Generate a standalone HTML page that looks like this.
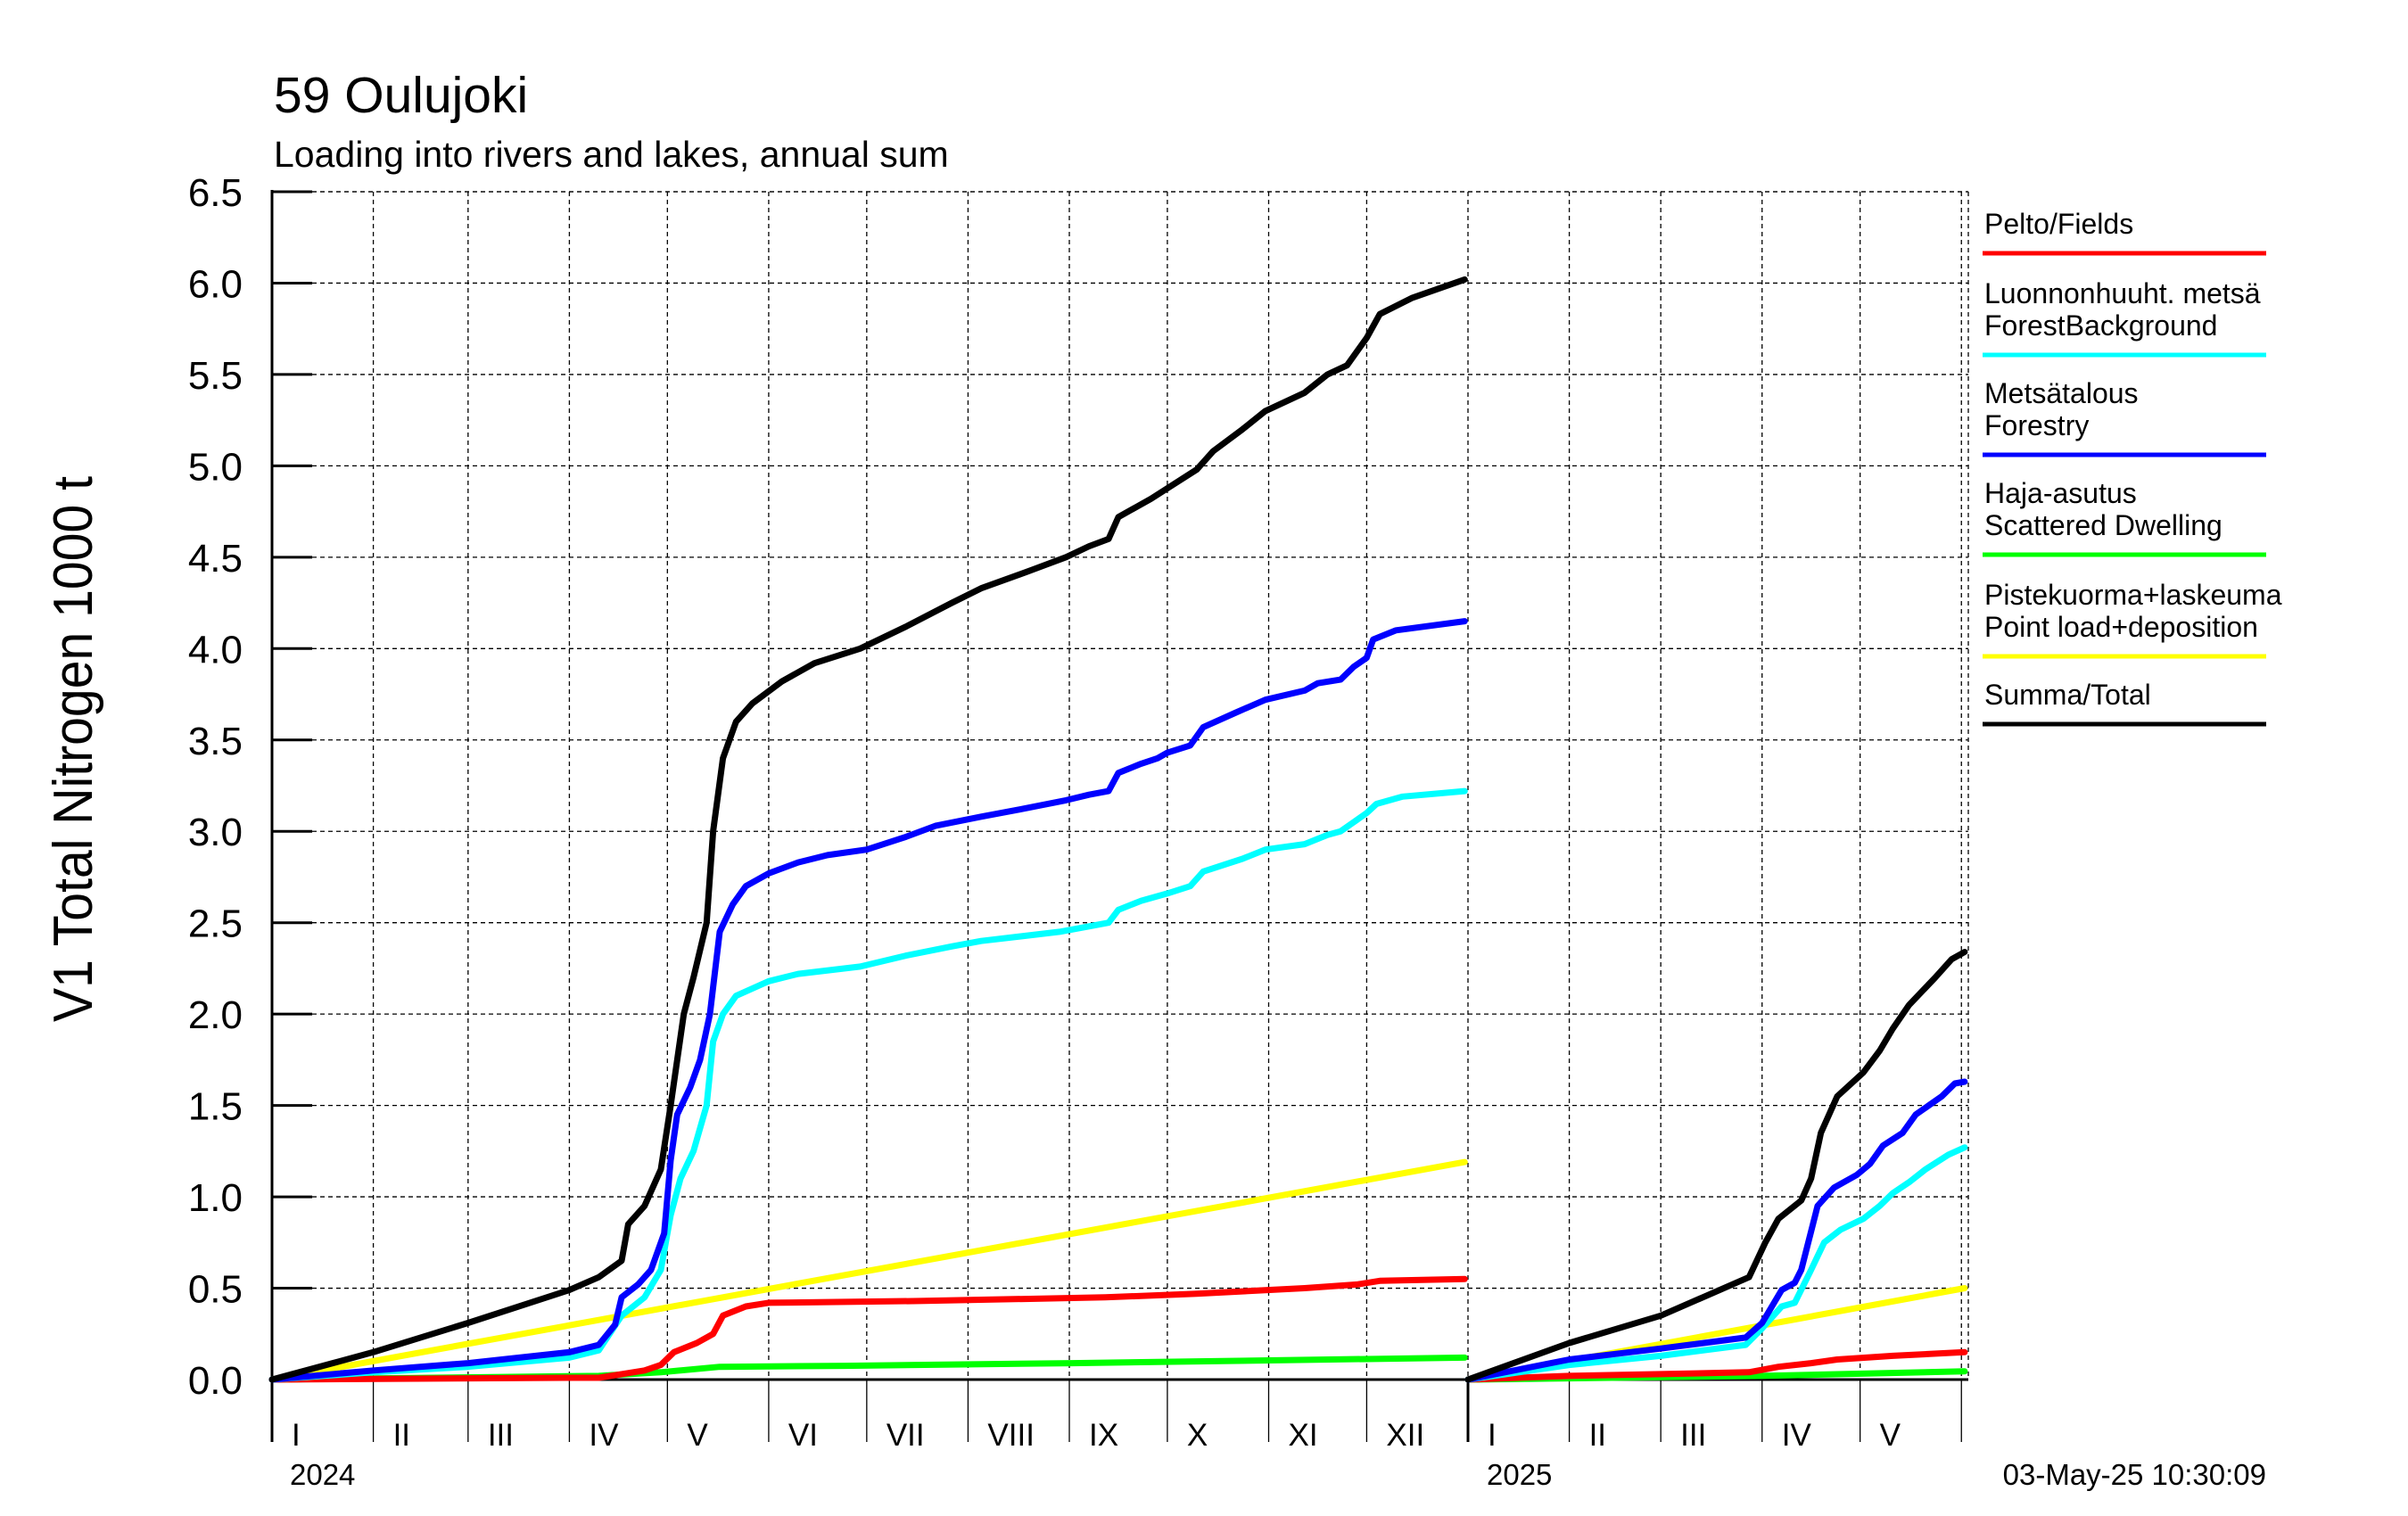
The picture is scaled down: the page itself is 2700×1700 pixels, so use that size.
<!DOCTYPE html>
<html><head><meta charset="utf-8"><style>
html,body{margin:0;padding:0;background:#fff;}
svg{display:block;font-family:"Liberation Sans",sans-serif;}
</style></head><body>
<svg id="chart" width="2700" height="1700" viewBox="0 0 2700 1700">
<text x="307" y="126" font-size="57">59 Oulujoki</text>
<text x="307" y="187" font-size="41">Loading into rivers and lakes, annual sum</text>
<text transform="translate(103,840) rotate(-90)" text-anchor="middle" font-size="62" textLength="612" lengthAdjust="spacingAndGlyphs">V1 Total Nitrogen 1000 t</text>
<g id="grid"></g>
<g id="axes"></g>
<g id="series"></g>
<g id="legend"></g>
<text x="325" y="1665" font-size="33">2024</text>
<text x="1667" y="1665" font-size="33">2025</text>
<text x="2541" y="1665" font-size="33" text-anchor="end">03-May-25 10:30:09</text>
</svg>
<script>
const yTicks = [0,0.5,1,1.5,2,2.5,3,3.5,4,4.5,5,5.5,6,6.5];
const yTickLabels = ["0.0","0.5","1.0","1.5","2.0","2.5","3.0","3.5","4.0","4.5","5.0","5.5","6.0","6.5"];
const monthStarts2024 = [0,31,60,91,121,152,182,213,244,274,305,335];
const monthLabels2024 = ["I","II","III","IV","V","VI","VII","VIII","IX","X","XI","XII"];
const monthStarts2025 = [0,31,59,90,120,151];
const monthLabels2025 = ["I","II","III","IV","V",""];
const totalDays24 = [0,31,60,91,100,107,109,114,119,122,126,129,133,135,138,142,147,156,166,180,194,208,217,231,243,250,256,259,269,276,283,288,297,304,316,323,329,335,339,349,365];
const totalVals24 = [0,0.15,0.31,0.49,0.56,0.65,0.85,0.95,1.15,1.5,2.0,2.2,2.5,3.0,3.4,3.6,3.7,3.82,3.92,4.0,4.12,4.25,4.33,4.42,4.5,4.56,4.6,4.72,4.82,4.9,4.98,5.08,5.2,5.3,5.4,5.5,5.55,5.7,5.83,5.92,6.02];
const forestryDays24 = [0,31,60,91,100,105,107,112,116,120,122,124,128,131,134,137,141,145,152,161,170,182,194,203,217,229,243,250,256,259,266,271,274,281,285,295,304,316,320,327,331,335,337,344,365];
const forestryVals24 = [0,0.05,0.09,0.15,0.19,0.3,0.45,0.52,0.6,0.8,1.2,1.45,1.6,1.75,2.0,2.45,2.6,2.7,2.77,2.83,2.87,2.9,2.97,3.03,3.08,3.12,3.17,3.2,3.22,3.32,3.37,3.4,3.43,3.47,3.57,3.65,3.72,3.77,3.81,3.83,3.9,3.95,4.05,4.1,4.15];
const backgroundDays24 = [0,31,60,91,100,107,114,119,122,125,129,133,135,138,142,152,161,180,194,208,217,241,250,256,259,266,274,281,285,297,304,316,323,327,331,335,338,346,365];
const backgroundVals24 = [0,0.04,0.07,0.12,0.16,0.35,0.45,0.6,0.9,1.1,1.25,1.5,1.85,2.0,2.1,2.18,2.22,2.26,2.32,2.37,2.4,2.45,2.48,2.5,2.57,2.62,2.66,2.7,2.78,2.85,2.9,2.93,2.98,3.0,3.05,3.1,3.15,3.19,3.22];
const fieldsDays24 = [0,91,100,107,114,119,123,130,135,138,145,152,198,255,283,316,332,339,365];
const fieldsVals24 = [0,0.01,0.01,0.03,0.05,0.08,0.15,0.2,0.25,0.35,0.4,0.42,0.43,0.45,0.47,0.5,0.52,0.54,0.55];
const dwellingDays24 = [0,100,119,137,175,245,365];
const dwellingVals24 = [0,0.02,0.04,0.07,0.075,0.09,0.12];
const pointDays24 = [0,365];
const pointVals24 = [0,1.19];
const totalDays25 = [0,31,59,86,91,95,102,105,108,113,121,126,130,135,143,148,152];
const totalVals25 = [0,0.2,0.35,0.56,0.75,0.88,0.98,1.1,1.35,1.55,1.68,1.8,1.92,2.05,2.2,2.3,2.34];
const forestryDays25 = [0,31,59,85,90,96,100,102,107,112,119,123,127,133,137,145,149,152];
const forestryVals25 = [0,0.11,0.17,0.23,0.31,0.49,0.53,0.6,0.95,1.05,1.12,1.18,1.28,1.35,1.45,1.55,1.62,1.63];
const backgroundDays25 = [0,31,59,85,90,96,100,105,109,114,121,126,130,135,140,147,152];
const backgroundVals25 = [0,0.08,0.13,0.19,0.28,0.4,0.42,0.6,0.75,0.82,0.88,0.95,1.02,1.08,1.15,1.23,1.27];
const fieldsDays25 = [0,31,59,86,95,105,113,130,152];
const fieldsVals25 = [0,0.02,0.03,0.04,0.07,0.09,0.11,0.13,0.15];
const dwellingDays25 = [0,90,152];
const dwellingVals25 = [0,0.02,0.045];
const pointDays25 = [0,152];
const pointVals25 = [0,0.5];

const NS = "http://www.w3.org/2000/svg";
const X0 = 305, X1 = 1646, PXD = (1646-305)/366, XEND = 2207;
const Y0 = 1547, PXU = (1547-215)/6.5;
function xs24(d){ return X0 + d*PXD; }
function xs25(d){ return X1 + d*PXD; }
function ys(v){ return Y0 - v*PXU; }
function mk(parent, tag, attrs){
  const e = document.createElementNS(NS, tag);
  for (const k in attrs) e.setAttribute(k, attrs[k]);
  parent.appendChild(e);
  return e;
}
const grid = document.getElementById('grid');
const axes = document.getElementById('axes');
const series = document.getElementById('series');
const legend = document.getElementById('legend');

yTicks.forEach((t,i)=>{
  const y = ys(t);
  if (t > 0) {
    const l = mk(grid,'line',{x1:X0,x2:XEND,y1:y,y2:y,stroke:'#000','stroke-width':1.3,'stroke-dasharray':'5,4'});
    
    
  }
  const tk = mk(axes,'line',{x1:X0,x2:X0+45,y1:y,y2:y,stroke:'#000','stroke-width':3});
  
  
  const tx = mk(axes,'text',{x:272,y:y+16,'font-size':44,'text-anchor':'end'});
  tx.textContent = yTickLabels[i];
  
  
});
function months(starts, labels, xf){
  starts.forEach((d,i)=>{
    const x = xf(d);
    if (d > 0) {
      const g = mk(grid,'line',{x1:x,x2:x,y1:215,y2:Y0,stroke:'#000','stroke-width':1.3,'stroke-dasharray':'5,4'});
      
      
      const s = mk(axes,'line',{x1:x,x2:x,y1:Y0,y2:1617,stroke:'#000','stroke-width':1.3});
      
      
    }
    if (labels[i]) {
      const t = mk(axes,'text',{x:x+22,y:1621,'font-size':35});
      t.textContent = labels[i];
      
      
    }
  });
}
months(monthStarts2024, monthLabels2024, xs24);
months(monthStarts2025, monthLabels2025, xs25);
const rf = mk(grid,'line',{x1:XEND,x2:XEND,y1:215,y2:Y0,stroke:'#000','stroke-width':1.3,'stroke-dasharray':'5,4'});


const rt = mk(grid,'line',{x1:X0,x2:XEND,y1:215,y2:215,stroke:'#000','stroke-width':1.3,'stroke-dasharray':'5,4'});



function line(days, vals, xf, color, name){
  const pts = days.map((d,i)=>xf(d).toFixed(1)+','+ys(vals[i]).toFixed(1)).join(' ');
  const p = mk(series,'polyline',{points:pts,fill:'none',stroke:color,'stroke-width':7,'stroke-linejoin':'round','stroke-linecap':'round'});
  
  
}
line(pointDays24, pointVals24, xs24, '#ffff00', 'point-load-line-2024');
line(dwellingDays24, dwellingVals24, xs24, '#00ff00', 'scattered-dwelling-line-2024');
line(fieldsDays24, fieldsVals24, xs24, '#ff0000', 'fields-line-2024');
line(backgroundDays24, backgroundVals24, xs24, '#00ffff', 'forest-background-line-2024');
line(forestryDays24, forestryVals24, xs24, '#0000ff', 'forestry-line-2024');
line(totalDays24, totalVals24, xs24, '#000000', 'total-line-2024');
line(pointDays25, pointVals25, xs25, '#ffff00', 'point-load-line-2025');
line(dwellingDays25, dwellingVals25, xs25, '#00ff00', 'scattered-dwelling-line-2025');
line(fieldsDays25, fieldsVals25, xs25, '#ff0000', 'fields-line-2025');
line(backgroundDays25, backgroundVals25, xs25, '#00ffff', 'forest-background-line-2025');
line(forestryDays25, forestryVals25, xs25, '#0000ff', 'forestry-line-2025');
line(totalDays25, totalVals25, xs25, '#000000', 'total-line-2025');

const xa = mk(axes,'line',{x1:X0,x2:XEND,y1:Y0,y2:Y0,stroke:'#000','stroke-width':3});


const ya = mk(axes,'line',{x1:X0,x2:X0,y1:213,y2:1617,stroke:'#000','stroke-width':3});


const sp = mk(axes,'line',{x1:X1,x2:X1,y1:Y0,y2:1617,stroke:'#000','stroke-width':3});


const sp2 = mk(grid,'line',{x1:X1,x2:X1,y1:215,y2:Y0,stroke:'#000','stroke-width':1.3,'stroke-dasharray':'5,4'});



const legTexts = [["Pelto/Fields"],["Luonnonhuuht. metsä","ForestBackground"],["Metsätalous","Forestry"],["Haja-asutus","Scattered Dwelling"],["Pistekuorma+laskeuma","Point load+deposition"],["Summa/Total"]];
const legColors = ['#ff0000','#00ffff','#0000ff','#00ff00','#ffff00','#000000'];
const legLineY = [284,398,510,622,736,812];
const legNames = ['legend-fields','legend-forest-background','legend-forestry','legend-scattered-dwelling','legend-point-load','legend-total'];
legTexts.forEach((lines,i)=>{
  const g = mk(legend,'g',{});
  
  
  const ly = legLineY[i];
  const n = lines.length;
  lines.forEach((s,j)=>{
    const t = mk(g,'text',{x:2225,y:ly-22-(n-1-j)*36,'font-size':32});
    t.textContent = s;
  });
  mk(g,'line',{x1:2223,x2:2541,y1:ly,y2:ly,stroke:legColors[i],'stroke-width':5});
});
</script>
</body></html>
